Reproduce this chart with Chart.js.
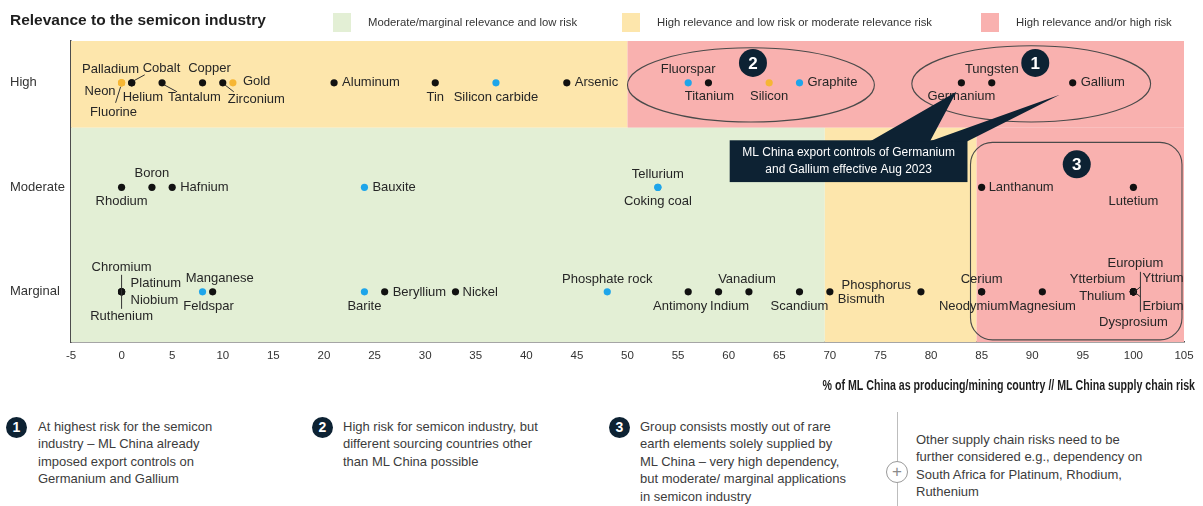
<!DOCTYPE html>
<html>
<head>
<meta charset="utf-8">
<script src="https://cdn.jsdelivr.net/npm/chart.js@4/dist/chart.umd.min.js"></script>
<style>
  body { margin: 0; background: #fff; font-family: 'Liberation Sans', Arial, sans-serif; }
  #wrap { position: relative; width: 1203px; height: 506px; overflow: hidden; }
  #chartBox { position: absolute; left: 0; top: 0; width: 1203px; height: 400px; }
  .note { position: absolute; top: 418px; font-size: 13px; line-height: 17.4px; color: #3c3c3c; }
  .badge { position: absolute; top: 417px; width: 21px; height: 21px; border-radius: 50%;
           background: #0d2233; color: #fff; font-weight: bold; font-size: 14px;
           line-height: 21px; text-align: center; }
  #divider { position: absolute; left: 897px; top: 412px; width: 1px; height: 94px; background: #bdbdbd; }
  #plus { position: absolute; left: 886px; top: 461px; width: 20px; height: 20px; border-radius: 50%;
          border: 1px solid #9a9a9a; background: #fff; color: #8a8a8a; font-size: 17px;
          line-height: 19px; text-align: center; }
</style>
</head>
<body>
<div id="wrap">
  <div id="chartBox"><canvas id="riskChart"></canvas></div>

  <div class="badge" style="left:6px">1</div>
  <div class="note" style="left:38px">At highest risk for the semicon<br>industry – ML China already<br>imposed export controls on<br>Germanium and Gallium</div>

  <div class="badge" style="left:312px">2</div>
  <div class="note" style="left:343px">High risk for semicon industry, but<br>different sourcing countries other<br>than ML China possible</div>

  <div class="badge" style="left:609px">3</div>
  <div class="note" style="left:640px">Group consists mostly out of rare<br>earth elements solely supplied by<br>ML China – very high dependency,<br>but moderate/ marginal applications<br>in semicon industry</div>

  <div id="divider"></div>
  <div id="plus">+</div>
  <div class="note" style="left:916px; top:431px">Other supply chain risks need to be<br>further considered e.g., dependency on<br>South Africa for Platinum, Rhodium,<br>Ruthenium</div>
</div>

<script>
// relevance rows (y = 0, 1, 2)
const rowLabels = ['Marginal', 'Moderate', 'High'];

// % share of ML China as producing / mining country, per relevance row
const highNames = ['Palladium', 'Neon', 'Fluorine', 'Helium', 'Cobalt', 'Tantalum', 'Copper', 'Zirconium', 'Gold',
  'Aluminum', 'Tin', 'Silicon carbide', 'Arsenic', 'Fluorspar', 'Titanium', 'Silicon', 'Graphite',
  'Germanium', 'Tungsten', 'Gallium'];
const highShare = [0, 0, 0, 1, 1, 4, 8, 10, 11, 21, 31, 37, 44, 56, 58, 64, 67, 83, 86, 94];

const moderateNames = ['Rhodium', 'Boron', 'Hafnium', 'Bauxite', 'Tellurium', 'Coking coal', 'Lanthanum', 'Lutetium'];
const moderateShare = [0, 3, 5, 24, 53, 53, 85, 100];

const marginalNames = ['Chromium', 'Platinum', 'Niobium', 'Ruthenium', 'Feldspar', 'Manganese', 'Barite', 'Beryllium',
  'Nickel', 'Phosphate rock', 'Antimony', 'Indium', 'Vanadium', 'Scandium', 'Bismuth', 'Phosphorus', 'Cerium',
  'Neodymium', 'Magnesium', 'Europium', 'Yttrium', 'Ytterbium', 'Thulium', 'Erbium', 'Dysprosium'];
const marginalShare = [0, 0, 0, 0, 8, 9, 24, 26, 33, 48, 56, 59, 62, 67, 70, 79, 85, 85, 91, 100, 100, 100, 100, 100, 100];

// dot colour groups
const blueGroup = ['Silicon carbide', 'Fluorspar', 'Graphite', 'Bauxite', 'Tellurium', 'Coking coal', 'Feldspar', 'Barite', 'Phosphate rock'];
const amberGroup = ['Palladium', 'Neon', 'Fluorine', 'Silicon', 'Gold'];

const COLORS = { black: '#111111', blue: '#1ea5ea', amber: '#f6b634' };
const BG = { green: '#e3efd5', yellow: '#fde6ac', red: '#f9b1af' };
const NAVY = '#0d2233';

// label placement: [dx, dy, align] in px from the dot
const labelPlace = {
  'Palladium': [-11, -13, 'center'], 'Neon': [-6, 9, 'right'], 'Fluorine': [-8, 30, 'center'],
  'Helium': [-9, 15, 'left'], 'Cobalt': [11, -14, 'left'], 'Tantalum': [6, 15, 'left'],
  'Copper': [7, -14, 'center'], 'Zirconium': [5, 17, 'left'], 'Gold': [10, -1, 'left'],
  'Aluminum': [8, 0, 'left'], 'Tin': [0, 15, 'center'], 'Silicon carbide': [0, 15, 'center'],
  'Arsenic': [8, 0, 'left'], 'Fluorspar': [0, -13, 'center'], 'Titanium': [1, 14, 'center'],
  'Silicon': [0, 14, 'center'], 'Graphite': [8, 0, 'left'], 'Germanium': [0, 14, 'center'],
  'Tungsten': [0, -13, 'center'], 'Gallium': [8, 0, 'left'],
  'Rhodium': [0, 14, 'center'], 'Boron': [0, -14, 'center'], 'Hafnium': [8, 0, 'left'],
  'Bauxite': [8, 0, 'left'], 'Tellurium': [0, -13, 'center'], 'Coking coal': [0, 14, 'center'],
  'Lanthanum': [7, 0, 'left'], 'Lutetium': [0, 14, 'center'],
  'Chromium': [0, -24, 'center'], 'Platinum': [9, -8, 'left'], 'Niobium': [9, 9, 'left'],
  'Ruthenium': [0, 25, 'center'], 'Manganese': [7, -13, 'center'], 'Feldspar': [6, 15, 'center'],
  'Barite': [0, 15, 'center'], 'Beryllium': [8, 1, 'left'], 'Nickel': [7, 1, 'left'],
  'Phosphate rock': [0, -12, 'center'], 'Antimony': [-8, 15, 'center'], 'Indium': [11, 15, 'center'],
  'Vanadium': [-2, -12, 'center'], 'Scandium': [0, 15, 'center'], 'Bismuth': [8, 8, 'left'],
  'Phosphorus': [-10, -6, 'right'], 'Cerium': [0, -12, 'center'], 'Neodymium': [-8, 15, 'center'],
  'Magnesium': [0, 15, 'center'], 'Europium': [2, -28, 'center'], 'Yttrium': [9, -13, 'left'],
  'Ytterbium': [-8, -12, 'right'], 'Thulium': [-8, 5, 'right'], 'Erbium': [9, 15, 'left'],
  'Dysprosium': [0, 31, 'center']
};

// short leader lines from the dot, px offsets
const leaders = {
  'Neon': [[-1, 4], [-6, 20]], 'Cobalt': [[2, -2], [13, -8]], 'Tantalum': [[2, 2], [15, 9]],
  'Zirconium': [[2, 2], [11, 9]], 'Chromium': [[0, -17], [0, 17]],
  'Yttrium': [[1, 0], [7, -5]], 'Erbium': [[1, 0], [7, 5]], 'Europium': [[7, -20], [7, 20]]
};

function colorOf(name) {
  if (blueGroup.includes(name)) return 'blue';
  if (amberGroup.includes(name)) return 'amber';
  return 'black';
}

function buildDatasets() {
  const groups = { black: [], blue: [], amber: [] };
  const rows = [[marginalNames, marginalShare], [moderateNames, moderateShare], [highNames, highShare]];
  rows.forEach(([names, share], row) => {
    names.forEach((n, i) => groups[colorOf(n)].push({ x: share[i], y: row, name: n }));
  });
  return Object.keys(groups).map(k => ({
    label: k, data: groups[k], backgroundColor: COLORS[k], pointRadius: 3.6,
    pointHoverRadius: 3.6, borderWidth: 0
  }));
}

// background zones in data units
const zones = [
  { x0: -5, x1: 50, y0: 1.57, y1: 2.4, fill: BG.yellow },
  { x0: 50, x1: 105, y0: 1.57, y1: 2.4, fill: BG.red },
  { x0: -5, x1: 69.5, y0: -0.48, y1: 1.57, fill: BG.green },
  { x0: 69.5, x1: 84.5, y0: -0.48, y1: 1.57, fill: BG.yellow },
  { x0: 84.5, x1: 105, y0: -0.48, y1: 1.57, fill: BG.red }
];

const zonePlugin = {
  id: 'zones',
  beforeDatasetsDraw(chart) {
    const { ctx, scales: { x, y } } = chart;
    ctx.save();
    zones.forEach(z => {
      const l = x.getPixelForValue(z.x0), r = x.getPixelForValue(z.x1);
      const t = y.getPixelForValue(z.y1), b = y.getPixelForValue(z.y0);
      ctx.fillStyle = z.fill;
      ctx.fillRect(l, t, r - l, b - t);
    });
    // group outlines
    ctx.strokeStyle = '#4a4a4a';
    ctx.lineWidth = 1.1;
    [[62.2, 1.98, 12.2, 0.355], [89.9, 1.99, 11.8, 0.365]].forEach(([cx, cy, rx, ry]) => {
      const px = x.getPixelForValue(cx), py = y.getPixelForValue(cy);
      ctx.beginPath();
      ctx.ellipse(px, py, x.getPixelForValue(cx + rx) - px, py - y.getPixelForValue(cy + ry), 0, 0, Math.PI * 2);
      ctx.stroke();
    });
    const l = x.getPixelForValue(83.9), r = x.getPixelForValue(104.8);
    const t = y.getPixelForValue(1.43), b = y.getPixelForValue(-0.46);
    ctx.beginPath();
    ctx.roundRect(l, t, r - l, b - t, 22);
    ctx.stroke();
    ctx.restore();
  }
};

function badge(ctx, cx, cy, r, txt, size) {
  ctx.beginPath();
  ctx.arc(cx, cy, r, 0, Math.PI * 2);
  ctx.fillStyle = NAVY;
  ctx.fill();
  ctx.fillStyle = '#fff';
  ctx.font = `bold ${size}px 'Liberation Sans', Arial`;
  ctx.textAlign = 'center';
  ctx.textBaseline = 'middle';
  ctx.fillText(txt, cx, cy + 1);
}

const labelPlugin = {
  id: 'pointLabels',
  afterDatasetsDraw(chart) {
    const { ctx, scales: { x, y } } = chart;
    ctx.save();
    ctx.font = "13px 'Liberation Sans', Arial";
    ctx.textBaseline = 'middle';
    chart.data.datasets.forEach((ds, di) => {
      const meta = chart.getDatasetMeta(di);
      ds.data.forEach((p, i) => {
        const el = meta.data[i];
        const [dx, dy, align] = labelPlace[p.name] || [8, 0, 'left'];
        const ln = leaders[p.name];
        if (ln) {
          ctx.strokeStyle = '#333';
          ctx.lineWidth = 1;
          ctx.beginPath();
          ctx.moveTo(el.x + ln[0][0], el.y + ln[0][1]);
          ctx.lineTo(el.x + ln[1][0], el.y + ln[1][1]);
          ctx.stroke();
        }
        ctx.fillStyle = '#262626';
        ctx.textAlign = align;
        ctx.fillText(p.name, el.x + dx, el.y + dy);
      });
    });

    // callout with two pointers
    const bl = x.getPixelForValue(60.1), br = x.getPixelForValue(83.6);
    const bt = y.getPixelForValue(1.45), bb = y.getPixelForValue(1.05);
    const tipGe = [x.getPixelForValue(83) - 5, y.getPixelForValue(2) + 9];
    const tipGa = [x.getPixelForValue(94) - 13, y.getPixelForValue(2) + 12];
    ctx.fillStyle = NAVY;
    ctx.fillRect(bl, bt, br - bl, bb - bt);
    ctx.beginPath();
    ctx.moveTo(x.getPixelForValue(74), bt + 1);
    ctx.lineTo(tipGe[0], tipGe[1]);
    ctx.lineTo(x.getPixelForValue(79.9), bt + 1);
    ctx.lineTo(tipGa[0], tipGa[1]);
    ctx.lineTo(br, bt + 1);
    ctx.closePath();
    ctx.fill();
    ctx.fillStyle = '#fff';
    ctx.font = "12px 'Liberation Sans', Arial";
    ctx.textAlign = 'center';
    ctx.fillText('ML China export controls of Germanium', (bl + br) / 2, bt + 12);
    ctx.fillText('and Gallium effective Aug 2023', (bl + br) / 2, bt + 29);

    badge(ctx, x.getPixelForValue(62.4), y.getPixelForValue(2.19), 14, '2', 17);
    badge(ctx, x.getPixelForValue(90.3), y.getPixelForValue(2.19), 14, '1', 17);
    badge(ctx, x.getPixelForValue(94.4), y.getPixelForValue(1.22), 14, '3', 17);

    // x axis title, condensed
    ctx.save();
    ctx.fillStyle = '#1e1e1e';
    ctx.font = "bold 14px 'Liberation Sans', Arial";
    ctx.textAlign = 'right';
    ctx.translate(1195, 386);
    ctx.scale(0.76, 1);
    ctx.fillText('% of ML China as producing/mining country // ML China supply chain risk', 0, 0);
    ctx.restore();

    // heading and zone legend
    ctx.textAlign = 'left';
    ctx.fillStyle = '#1e1e1e';
    ctx.font = "bold 15.5px 'Liberation Sans', Arial";
    ctx.fillText('Relevance to the semicon industry', 10, 21);
    ctx.font = "11.3px 'Liberation Sans', Arial";
    [[333, BG.green, 'Moderate/marginal relevance and low risk'],
     [622, BG.yellow, 'High relevance and low risk or moderate relevance risk'],
     [981, BG.red, 'High relevance and/or high risk']].forEach(([lx, c, t]) => {
      ctx.fillStyle = c;
      ctx.fillRect(lx, 13, 18, 19);
      ctx.fillStyle = '#333';
      ctx.fillText(t, lx + 35, 23);
    });
    ctx.restore();
  }
};

new Chart(document.getElementById('riskChart'), {
  type: 'scatter',
  data: { datasets: buildDatasets() },
  options: {
    responsive: true,
    maintainAspectRatio: false,
    animation: false,
    events: [],
    layout: { padding: { top: 41, right: 19, left: 10, bottom: 0 } },
    plugins: { legend: { display: false }, tooltip: { enabled: false } },
    scales: {
      x: {
        type: 'linear', min: -5, max: 105,
        grid: { display: false, drawTicks: false },
        border: { color: '#4d4d4d', width: 1.5 },
        ticks: { stepSize: 5, padding: 7, color: '#333', font: { size: 11.5 } },
        afterFit(scale) { scale.height = 58; }
      },
      y: {
        type: 'linear', min: -0.48, max: 2.4,
        grid: { display: false, drawTicks: false },
        border: { color: '#4d4d4d', width: 1.5 },
        afterBuildTicks(scale) { scale.ticks = rowLabels.map((_, i) => ({ value: i })); },
        ticks: {
          crossAlign: 'far', color: '#333', font: { size: 13 },
          callback: v => rowLabels[v]
        },
        afterFit(scale) { scale.width = 61; }
      }
    }
  },
  plugins: [zonePlugin, labelPlugin]
});
</script>
</body>
</html>
